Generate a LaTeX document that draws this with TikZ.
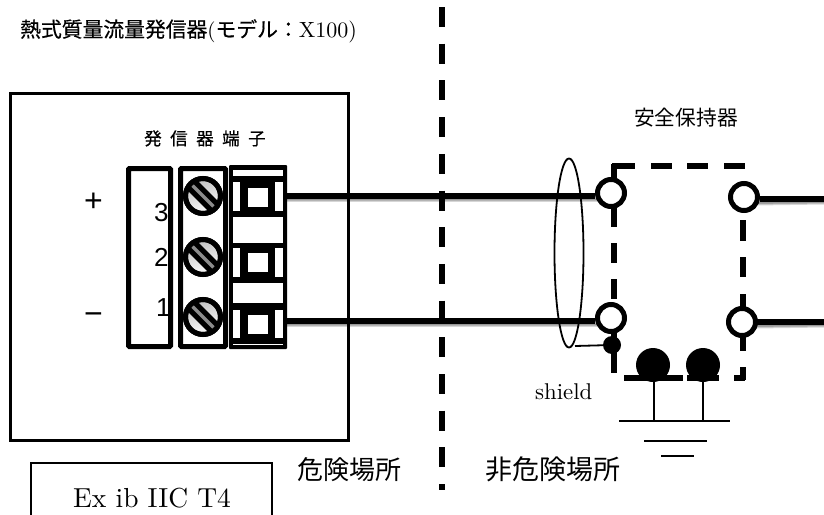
\documentclass[tikz,border=0pt]{standalone}
\usetikzlibrary{shapes.geometric}
\usepackage{fontspec}
\newfontfamily\jp{Noto Sans CJK JP}
\newfontfamily\jpb[FakeBold=0.6]{Noto Sans CJK JP}
\newfontfamily\sans{Liberation Sans}
\newfontfamily\lmx{lmroman10-regular}[Extension=.otf]
\tikzset{
  wire/.style={line width=6.5pt},
  wireshade/.style={line width=#1,black,opacity=.16},
  dashpart/.style={line width=5.5pt},
  block/.style={draw,line width=5pt,rounded corners=1pt,fill=white,outer sep=0pt,inner sep=0pt,anchor=north west},
  port/.style={circle,draw,line width=5pt,fill=white,minimum size=27pt,inner sep=0pt},
  screwhead/.style={circle,draw,line width=5pt,inner sep=0pt,minimum size=35pt,left color=black!25,right color=white,shading angle=20},
  blob/.style={circle,fill=black,inner sep=0pt,minimum size=#1},
  thinrule/.style={line width=2pt},
  txt/.style={inner sep=0pt,anchor=base west},
}
\begin{document}
\begin{tikzpicture}[x=1pt,y=-1pt]
\useasboundingbox (0,0) rectangle (824,514);
% titles
\node[txt] (title) at (20,37) {\fontsize{20.8}{22}\selectfont\jpb 熱式質量流量発信器{\lmx\fontsize{21}{22}\selectfont(}モデル：{\lmx\fontsize{22}{22}\selectfont X100)}};
% outer boxes
\node[draw,line width=3pt,outer sep=0pt,inner sep=0pt,anchor=north west,minimum width=338pt,minimum height=347pt] (unit) at (10,93) {};
\node[draw,line width=2.5pt,outer sep=0pt,anchor=north west,minimum width=241pt,minimum height=70pt,inner sep=0pt] (exbox) at (31,463) {};
\node[txt] (extext) at (73,507) {\lmx\fontsize{27.5}{28}\selectfont Ex ib IIC T4};
% hazard divider
\coordinate (divtop) at (442,7);
\coordinate (divbot) at (442,490);
\draw[line width=5.5pt,dash pattern=on 20pt off 16.7pt] (divtop) -- (divbot);
\node[txt] (haz) at (297,479) {\fontsize{26}{28}\selectfont\jp 危険場所};
\node[txt] (safe) at (485,479) {\fontsize{27}{28}\selectfont\jp 非危険場所};
\node[txt] (tb) at (144,145) {\fontsize{17.5}{20}\selectfont\jpb 発\hspace{8.5pt}信\hspace{8.5pt}器\hspace{8.5pt}端\hspace{8.5pt}子};
\node[txt] (barrier) at (634,125) {\fontsize{20.7}{22}\selectfont\jp 安全保持器};
\node[txt] (plus) at (84,211) {\fontsize{32}{32}\selectfont\sans +};
\node[txt] (minus) at (84,324) {\fontsize{32}{32}\selectfont\sans −};
% wire shadows
\coordinate (wa) at (286,199);
\coordinate (wb) at (286,324);
\coordinate (wc) at (824,202);
\coordinate (wd) at (824,325);
\foreach \w in {5pt,3pt,1.5pt}{
  \draw[wireshade=\w] (286,199.5) -- (600,199.5);
  \draw[wireshade=\w] (286,324.5) -- (600,324.5);
  \draw[wireshade=\w] (756,203) -- (wc);
  \draw[wireshade=\w] (756,326) -- (wd);
}
% terminal blocks
\node[block,minimum width=42pt,minimum height=178pt] (b1) at (128.5,168.5) {};
\node[block,minimum width=45pt,minimum height=178pt] (b2) at (180.5,168.5) {};
\fill[rounded corners=1pt] (229,165) rectangle (287,349);
\fill[white] (233,170) rectangle (283,176);
\fill[white] (233,217) rectangle (283,243);
\fill[white] (233,283) rectangle (283,303);
\fill[white] (233,344) rectangle (283,345);
\foreach \sx/\sy/\qy in {182/211/188,248/277/253,310/338/315}{
  \fill[white] (233,\sx) rectangle (240,\sy);
  \fill[white] (275,\sx) rectangle (283,\sy);
  \fill[white] (248,\qy) rectangle (268,\qy+18.5);
}
% numbers
\node[txt] (n3) at (154,221) {\fontsize{26}{26}\selectfont\sans 3};
\node[txt] (n2) at (154,266) {\fontsize{26}{26}\selectfont\sans 2};
\node[txt] (n1) at (156,316) {\fontsize{26}{26}\selectfont\sans 1};
% screws
\foreach \n/\cy in {a/196,b/257,c/317}{
  \node[screwhead] (s\n) at (203,\cy) {};
  \draw[line width=14pt] (203-11,\cy-11) -- (203+11,\cy+11);
  \draw[line width=3.5pt,black!45] (203-12,\cy-12) -- (203+12,\cy+12);
  \node[circle,draw,line width=5pt,inner sep=0pt,minimum size=35pt] (r\n) at (203,\cy) {};
}
% barrier dashed outline
\foreach \ax/\ay/\bx/\by in {612/166/635/166,651/166/672/166,687/166/708/166,724/166/745/166,
  614/164/614/185,614/207/614/227,614/243/614/263,614/279/614/299,614/332/614/373,
  743/220/743/241,743/257/743/277,743/294/743/307,743/337/743/351,743/367/743/380,
  734/378/745/378,624/378/683/378,687/378/719/378}{
  \draw[dashpart] (\ax,\ay) -- (\bx,\by);
}
% ports and wires
\node[port] (p1) at (611,193) {};
\node[port] (p2) at (611,318) {};
\node[port] (p3) at (744,197) {};
\node[port] (p4) at (742,322) {};
\draw[wire] (wa |- p1) ++(0,3) coordinate (wa1) -- (p1.west |- wa1);
\draw[wire] (wb |- p2) ++(0,3) coordinate (wb1) -- (p2.west |- wb1);
\draw[wire] (p3.east) ++(0,2) coordinate (wc1) -- (wc1 -| wc);
\draw[wire] (p4) ++(14,0) coordinate (wd1) -- (wd1 -| wd);
% shield
\node[ellipse,draw,line width=1.8pt,inner sep=0pt,minimum width=29pt,minimum height=189pt] (cable) at (569,253) {};
\node[blob=18pt] (sdot) at (612,345) {};
\draw[line width=1.8pt] (575,346) coordinate (sa) -- (sdot);
\node[txt] (shield) at (535,399) {\lmx\fontsize{22.8}{24}\selectfont shield};
% earth
\node[blob=34pt] (e1) at (653,365) {};
\node[blob=34pt] (e2) at (703,365) {};
\coordinate (g1) at (654,421);
\coordinate (g2) at (703,421);
\draw[thinrule] (654,380) coordinate (e1b) -- (g1);
\draw[thinrule] (703,380) coordinate (e2b) -- (g2);
\coordinate (gl1) at (619,421); \coordinate (gr1) at (730,421);
\coordinate (gl2) at (644,441); \coordinate (gr2) at (707,441);
\coordinate (gl3) at (661,456); \coordinate (gr3) at (694,456);
\draw[thinrule] (gl1) -- (gr1);
\draw[thinrule] (gl2) -- (gr2);
\draw[thinrule] (gl3) -- (gr3);
\end{tikzpicture}
\end{document}
